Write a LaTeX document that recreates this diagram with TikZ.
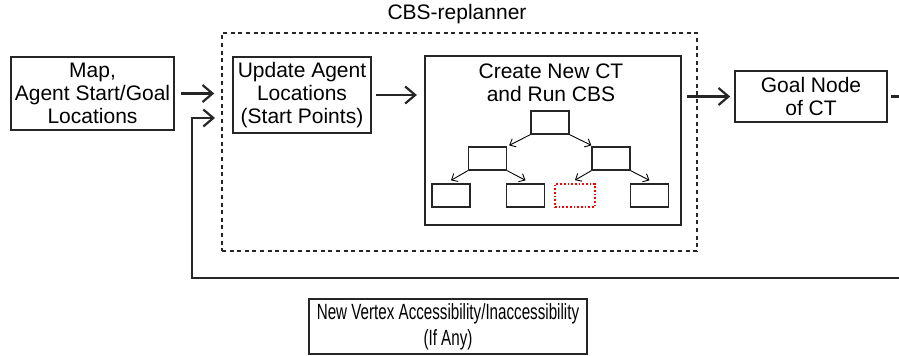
\documentclass[tikz,border=0pt]{standalone}
\usepackage{fontspec}
\setmainfont{Liberation Sans}
\newfontfamily\narrowfont[FakeStretch=0.69]{Liberation Sans}
\usetikzlibrary{arrows.meta}
\begin{document}
\begin{tikzpicture}[x=0.5pt,y=-0.5pt,
  font=\fontsize{10.5}{11.5}\selectfont,
  box/.style={draw=black!85,line width=0.8pt,inner sep=0pt,align=center},
  tnode/.style={draw=black!85,line width=0.65pt,inner sep=0pt,minimum width=19pt,minimum height=11.5pt},
  redbox/.style={draw=red,densely dotted,line width=0.85pt,inner sep=0pt,minimum width=20pt,minimum height=11.5pt},
  mainarrow/.style={line width=1.1pt,draw=black!85,-{Straight Barb[length=5pt,width=8.5pt,line width=1.1pt]}},
  treearrow/.style={line width=0.45pt,-{Straight Barb[length=2.5pt,width=4.5pt]}},
  plain/.style={line width=1.1pt,draw=black!85}]
\useasboundingbox (0,0) rectangle (899,355);
\clip (0,0) rectangle (899,355);
% dashed CBS-replanner frame
\node[draw=black!85,line width=0.8pt,dash pattern=on 2pt off 1.8pt,minimum width=237.5pt,minimum height=109pt,inner sep=0pt] (cbs) at (459.5,142) {};
\node (cbslabel) at (457,14) {CBS-replanner};
% boxes
\node[box,minimum width=81.5pt,minimum height=36.5pt] (map) at (92.5,93.5) {Map,\\Agent Start/Goal\\Locations};
\node[box,minimum width=69pt,minimum height=38pt] (upd) at (302,95) {Update Agent\\Locations\\(Start Points)};
\node[box,line width=1.1pt,minimum width=128pt,minimum height=84.5pt] (create) at (553,140.5) {};
\node[align=center,inner sep=0pt] (createlabel) at (551,82.5) {Create New CT\\and Run CBS};
\node[box,minimum width=76pt,minimum height=25.5pt] (goal) at (811,96.5) {Goal Node\\of CT};
\node[box,minimum width=139pt,minimum height=27.5pt,font=\narrowfont\fontsize{11}{13}\selectfont] (newv) at (448,326.5) {New Vertex Accessibility/Inaccessibility\\(If Any)};
% tree
\node[tnode] (root) at (550,122.5) {};
\node[tnode] (la) at (487.5,158.5) {};
\node[tnode] (lb) at (611,158.5) {};
\node[tnode] (ca) at (451,195.5) {};
\node[tnode] (cb) at (525.5,195.5) {};
\node[redbox] (cc) at (575,195.5) {};
\node[tnode] (cd) at (649.5,195.5) {};
\draw[treearrow] (root.south west) -- ([shift={(2,-1)}]la.north east);
\draw[treearrow] (root.south east) -- ([shift={(0,-1)}]lb.north west);
\draw[treearrow] (la.south west) -- ([yshift=1.5pt]ca.north);
\draw[treearrow] (la.south east) -- ([yshift=1.5pt]cb.north);
\draw[treearrow] (lb.south west) -- ([yshift=1.5pt]cc.north);
\draw[treearrow] (lb.south east) -- ([yshift=1.5pt]cd.north);
% main connectors
\draw[mainarrow,shorten <=3pt,shorten >=3.5pt] (map.east) -- (cbs.west |- map.east);
\draw[mainarrow,shorten <=2pt,shorten >=3.5pt] (upd.east) -- (create.west |- upd.east);
\draw[mainarrow,shorten <=2.5pt,shorten >=2pt] (create.east |- goal.west) -- (goal.west);
\coordinate (stubend) at (905,96.5);
\coordinate (fbstart) at (905,278);
\coordinate (fbturn) at (192,278);
\coordinate (fbtarget) at (222,118);
\draw[plain,shorten <=1.5pt] (goal.east) -- (stubend);
\draw[mainarrow,shorten >=3.5pt] (fbstart) -- (fbturn) |- (fbtarget);
\end{tikzpicture}
\end{document}
